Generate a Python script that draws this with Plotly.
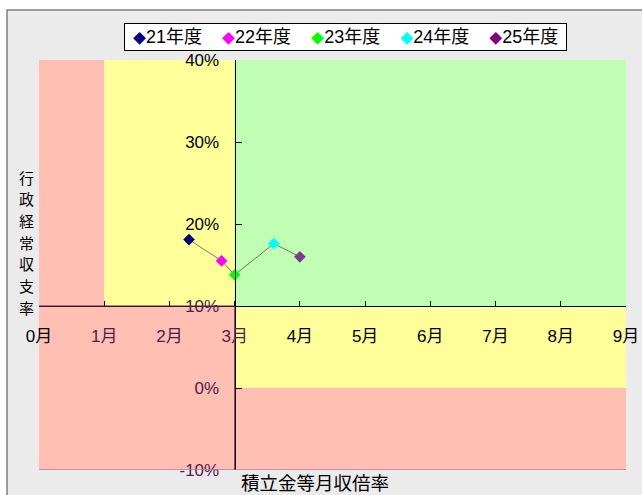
import plotly.graph_objects as go

# ---- data ----
years = ["21年度", "22年度", "23年度", "24年度", "25年度"]
months_ratio = [2.3, 2.8, 3.0, 3.6, 4.0]          # 積立金等月収倍率 (months)
balance_rate = [18.1, 15.5, 13.8, 17.6, 16.0]      # 行政経常収支率 (%)
marker_colors = ["#000080", "#FF00FF", "#00FF00", "#00FFFF", "#7A3A96"]
legend_colors = ["#000080", "#FF00FF", "#00FF00", "#00FFFF", "#800080"]

x_ticks = [0, 1, 2, 3, 4, 5, 6, 7, 8, 9]
x_ticktext = [f"{v}月" for v in x_ticks]
y_ticks = [-10, 0, 10, 20, 30, 40]
y_ticktext = [f"{v}%" for v in y_ticks]

# evaluation zones (x from, x to, y from, y to, colour)
zone_x0 = [0, 1, 3, 0, 3, 3]
zone_x1 = [1, 3, 9, 3, 9, 9]
zone_y0 = [10, 10, 10, -10, 0, -10]
zone_y1 = [40, 40, 40, 10, 10, 0]
zone_col = ["#FFBFB3", "#FFFF99", "#C0FFB3", "#FFBFB3", "#FFFF99", "#FFBFB3"]

x_cross = 3     # y axis crosses x at 3 months
y_cross = 10    # x axis crosses y at 10%
x_range = [0, 9]
y_range = [-10, 40]

y_title = "行政経常収支率"
x_title = "積立金等月収倍率"

purple = "#4E1C4E"

W, H = 642, 495
ML, MR, MT, MB = 39, 16, 60, 25
PW, PH = W - ML - MR, H - MT - MB


def px_x(p):
    return (p - ML) / PW


def px_y(p):
    return (H - MB - p) / PH


def colored(texts, vals, cond):
    out = []
    for t, v in zip(texts, vals):
        if cond(v):
            out.append(f'<span style="color:{purple}">{t}</span>')
        else:
            out.append(t)
    return out


fig = go.Figure()

# connecting line
fig.add_trace(go.Scatter(x=months_ratio, y=balance_rate, mode="lines",
                         line=dict(color="#555555", width=0.8),
                         showlegend=False, hoverinfo="skip"))
for name, xv, yv, c in zip(years, months_ratio, balance_rate, marker_colors):
    fig.add_trace(go.Scatter(x=[xv], y=[yv], mode="markers", name=name,
                             showlegend=False,
                             marker=dict(symbol="diamond", size=9, color=c)))

shapes = []
# chart background with border
shapes.append(dict(type="rect", xref="paper", yref="paper",
                   x0=px_x(7), x1=px_x(650), y0=px_y(505), y1=px_y(10),
                   fillcolor="#EBEBEB", line=dict(color="#808080", width=1.5),
                   layer="below"))
for a, b, c0, d, col in zip(zone_x0, zone_x1, zone_y0, zone_y1, zone_col):
    shapes.append(dict(type="rect", xref="x", yref="y", x0=a, x1=b, y0=c0, y1=d,
                       fillcolor=col, line=dict(width=0), layer="below"))
# bottom edge of plot area (light purple)
shapes.append(dict(type="line", xref="x", yref="y",
                   x0=x_range[0], x1=x_range[1], y0=y_range[0], y1=y_range[0],
                   line=dict(color="#B47AB4", width=1.5), layer="above"))
# axis segments over the red zone appear purple
shapes.append(dict(type="line", xref="x", yref="y",
                   x0=x_cross, x1=x_cross, y0=y_range[0], y1=y_cross,
                   line=dict(color="#6A3A6A", width=1), layer="above"))
shapes.append(dict(type="line", xref="x", yref="y",
                   x0=x_range[0], x1=x_cross, y0=y_cross, y1=y_cross,
                   line=dict(color="#5A2A5A", width=1.2), layer="above"))

tickfont = dict(family="Liberation Sans, Noto Sans CJK JP", size=17, color="black")

# legend drawn as a boxed annotation (Excel-like compact legend)
nb = "\u00a0"
legend_items = [f'<span style="color:{c};font-size:13px">◆</span>{y}'
                for y, c in zip(years, legend_colors)]
legend_text = nb + (nb * 4).join(legend_items) + nb

annotations = [
    dict(text=legend_text, xref="paper", yref="paper",
         x=px_x((124 + 567) / 2), y=px_y(37.5), xanchor="center", yanchor="middle",
         showarrow=False, bgcolor="white", bordercolor="black", borderwidth=1,
         borderpad=3,
         font=dict(family="Liberation Sans, Noto Sans CJK JP", size=18, color="black")),
    dict(text=x_title, xref="paper", yref="paper",
         x=px_x(315), y=px_y(482), showarrow=False,
         font=dict(family="Noto Sans CJK JP", size=18.5, color="black"),
         xanchor="center", yanchor="middle"),
]
for i, ch in enumerate(y_title):
    annotations.append(dict(text=ch, xref="paper", yref="paper",
                            x=px_x(26), y=px_y(177 + i * 21.7), showarrow=False,
                            borderpad=0,
                            font=dict(family="Noto Sans CJK JP", size=15, color="black"),
                            xanchor="center", yanchor="middle"))

fig.update_layout(
    width=W, height=H,
    margin=dict(l=ML, r=MR, t=MT, b=MB, autoexpand=False),
    paper_bgcolor="white",
    plot_bgcolor="rgba(0,0,0,0)",
    shapes=shapes,
    showlegend=False,
    xaxis=dict(range=x_range, anchor="free", automargin=False,
               position=(y_cross - y_range[0]) / (y_range[1] - y_range[0]),
               tickvals=x_ticks,
               ticktext=colored(x_ticktext, x_ticks, lambda v: 1 <= v <= 3),
               ticks="inside", ticklen=5, tickcolor="black",
               showline=True, linecolor="black", linewidth=1.2,
               showgrid=False, zeroline=False, tickfont=tickfont,
               ticklabelstandoff=14),
    yaxis=dict(range=y_range, anchor="free", automargin=False,
               position=(x_cross - x_range[0]) / (x_range[1] - x_range[0]),
               tickvals=y_ticks,
               ticktext=colored(y_ticktext, y_ticks, lambda v: v <= 10),
               ticks="inside", ticklen=6, tickcolor="black",
               showline=True, linecolor="black", linewidth=1.2,
               showgrid=False, zeroline=False,
               tickfont=dict(family="Liberation Sans", size=17, color="black"),
               ticklabelstandoff=12),
    annotations=annotations,
)

fig.write_html("out.html")
